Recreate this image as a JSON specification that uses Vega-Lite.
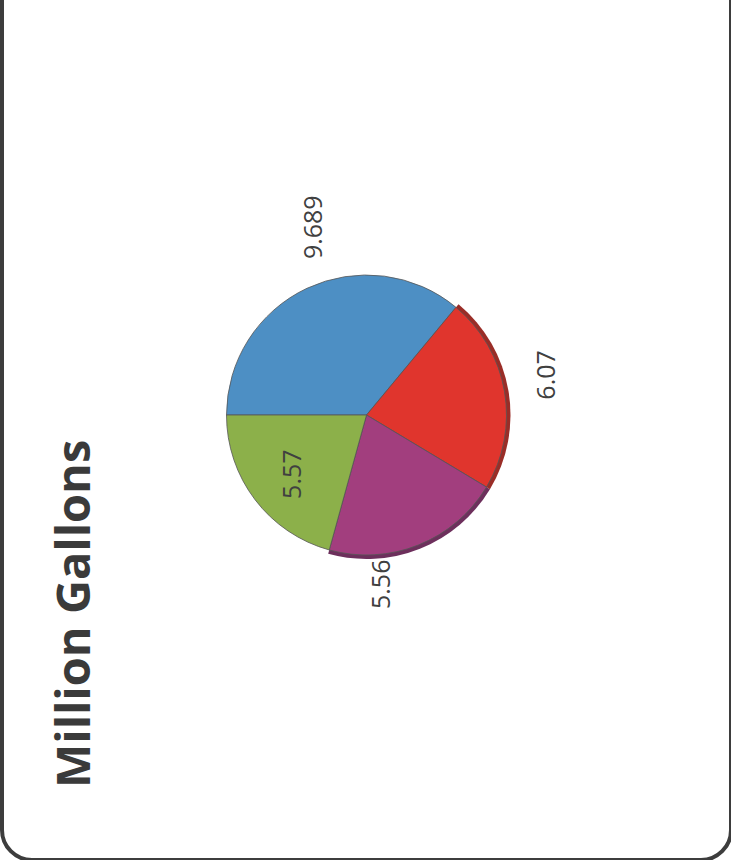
{
  "$schema": "https://vega.github.io/schema/vega-lite/v6.json",
  "width": 729,
  "height": 890,
  "autosize": {"type": "none"},
  "padding": {"left": 2, "top": -30, "right": 0, "bottom": 0},
  "background": "white",
  "title": {
    "text": "Million Gallons",
    "orient": "left",
    "anchor": "start",
    "offset": -98,
    "dx": 72,
    "font": "Open Sans",
    "fontSize": 47,
    "fontWeight": "bold",
    "color": "#3a3a3a"
  },
  "data": {
    "values": [
      {"slice": "Blue", "value": 9.689, "order": 1},
      {"slice": "Red", "value": 6.07, "order": 2},
      {"slice": "Purple", "value": 5.56, "order": 3},
      {"slice": "Green", "value": 5.57, "order": 4}
    ]
  },
  "encoding": {
    "theta": {
      "field": "value",
      "type": "quantitative",
      "stack": true,
      "scale": {"range": [4.712389, 10.995574]}
    },
    "order": {"field": "order", "type": "quantitative"}
  },
  "layer": [
    {
      "mark": {"type": "arc", "radius": 144},
      "encoding": {
        "color": {
          "condition": {"test": "datum.slice === 'Purple'", "value": "#6d2f5c"},
          "value": "#9a2d27"
        },
        "opacity": {
          "condition": {"test": "datum.slice === 'Red' || datum.slice === 'Purple'", "value": 1},
          "value": 0
        }
      }
    },
    {
      "mark": {"type": "arc", "radius": 140, "stroke": "#555555", "strokeWidth": 0.8},
      "encoding": {
        "color": {
          "field": "slice",
          "type": "nominal",
          "legend": null,
          "scale": {
            "domain": ["Blue", "Red", "Purple", "Green"],
            "range": ["#4d8fc4", "#e0352d", "#a23e7e", "#8cb04a"]
          }
        }
      }
    },
    {
      "mark": {"type": "text", "radius": 195, "thetaOffset": 0.166, "angle": 270, "font": "Open Sans", "fontSize": 25, "fill": "#404040"},
      "encoding": {
        "text": {"condition": {"test": "datum.slice === 'Blue'", "field": "value", "type": "quantitative", "format": ".4~g"}, "value": ""}
      }
    },
    {
      "mark": {"type": "text", "radius": 185, "thetaOffset": -0.05, "angle": 270, "font": "Open Sans", "fontSize": 25, "fill": "#404040"},
      "encoding": {
        "text": {"condition": {"test": "datum.slice === 'Red'", "field": "value", "type": "quantitative", "format": ".4~g"}, "value": ""}
      }
    },
    {
      "mark": {"type": "text", "radius": 170, "thetaOffset": 0.29, "angle": 270, "font": "Open Sans", "fontSize": 25, "fill": "#404040"},
      "encoding": {
        "text": {"condition": {"test": "datum.slice === 'Purple'", "field": "value", "type": "quantitative", "format": ".4~g"}, "value": ""}
      }
    },
    {
      "mark": {"type": "text", "radius": 94, "thetaOffset": -0.03, "angle": 270, "font": "Open Sans", "fontSize": 25, "fill": "#404040"},
      "encoding": {
        "text": {"condition": {"test": "datum.slice === 'Green'", "field": "value", "type": "quantitative", "format": ".4~g"}, "value": ""}
      }
    }
  ],
  "config": {
    "style": {
      "view": {"stroke": "#3d3d3d", "strokeWidth": 4, "cornerRadius": 30},
      "cell": {"stroke": "#3d3d3d", "strokeWidth": 4, "cornerRadius": 30}
    }
  }
}
